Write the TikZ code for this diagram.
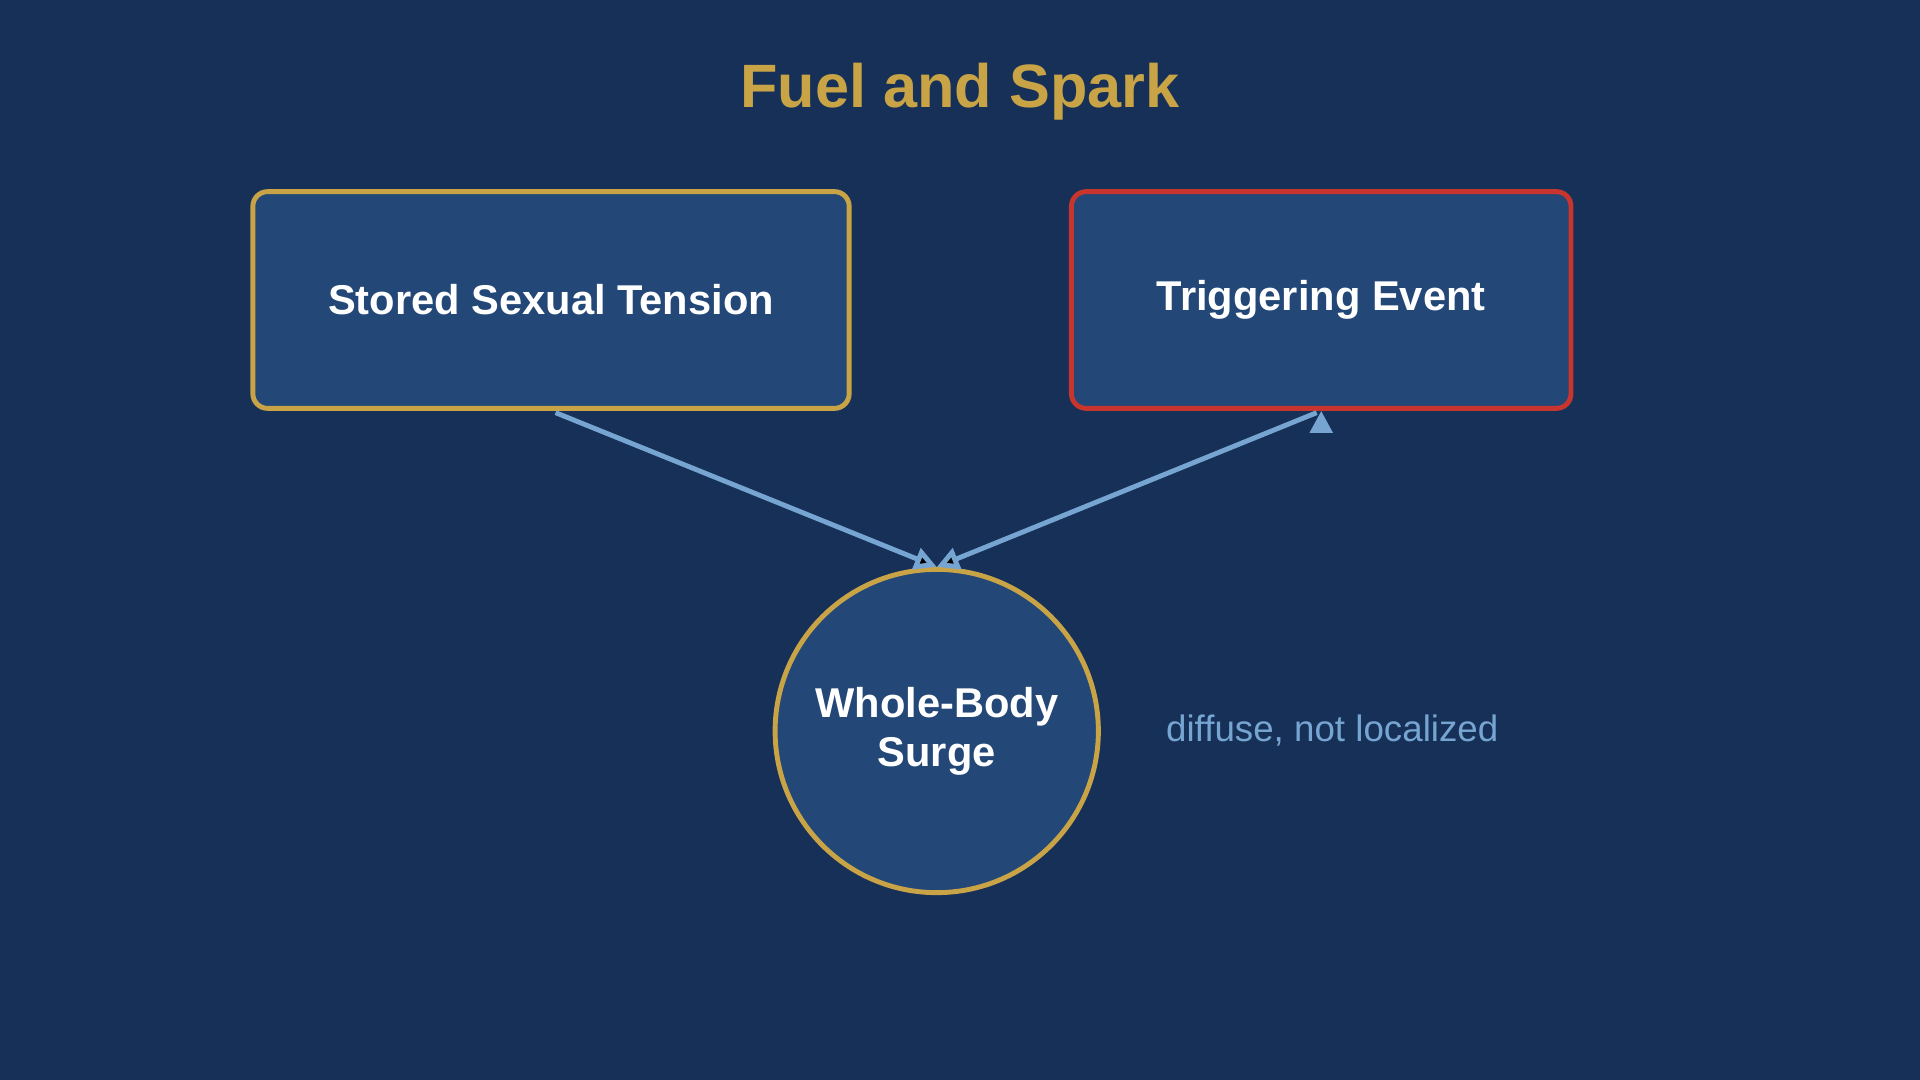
\documentclass[tikz,border=0pt]{standalone}
\usepackage{fontspec}
\setmainfont{Liberation Sans}
\usetikzlibrary{arrows.meta, positioning}
\definecolor{bgblue}{HTML}{173057}
\definecolor{boxblue}{HTML}{234776}
\definecolor{gold}{HTML}{C9A447}
\definecolor{sparkred}{HTML}{C8352E}
\definecolor{flowblue}{HTML}{76A5D2}

\begin{document}
\begin{tikzpicture}[x=0.5pt,y=-0.5pt,>={Triangle[length=9pt,width=9pt]},
        box/.style={draw,fill=boxblue,line width=2pt,rounded corners=6pt,
          minimum height=88.5pt,text=white,font=\bfseries\fontsize{17}{20}\selectfont},
        flow/.style={->,draw=flowblue,line width=2pt,shorten <=2pt}]
    \fill[bgblue] (0,0) rectangle (1568,882);

      \node[text=gold,font=\bfseries\fontsize{25}{30}\selectfont] (title) at (784,75) {Fuel and Spark};
      \node[box,draw=gold,minimum width=243.5pt]    (tension) at (450,245) {Stored Sexual Tension};
      \node[box,draw=sparkred,minimum width=204pt]  (trigger) at (1079,245) {Triggering Event};
      \node[circle,draw=gold,fill=boxblue,line width=2pt,minimum size=132pt,inner sep=0pt,
            align=center,text=white,font=\bfseries\fontsize{17}{20}\selectfont]
                                                    (surge) at (765,597) {Whole-Body\\Surge};
      \node[text=flowblue,font=\fontsize{15}{18}\selectfont] (note) at (1088,597) {diffuse, not localized};

      \path[flow] (tension.south) edge (surge.north)
                  (trigger.south) edge (surge.north);
    \end{tikzpicture}
\end{document}
